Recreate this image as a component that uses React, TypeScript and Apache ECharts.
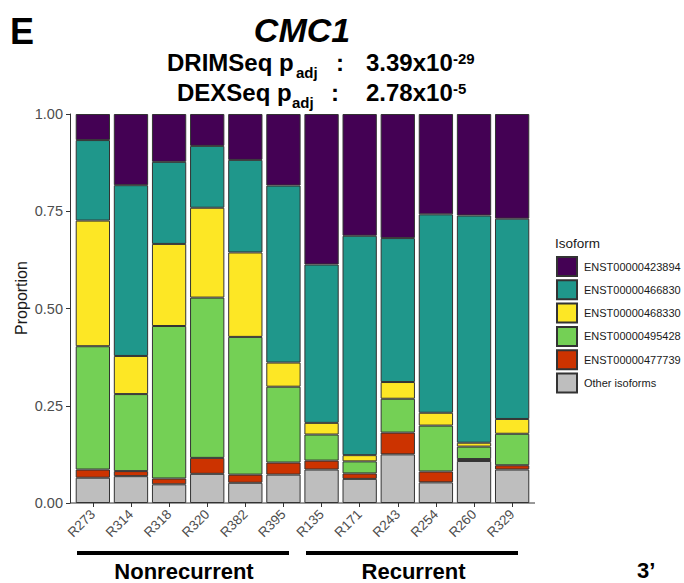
import React, { useEffect, useRef } from "react";
import * as echarts from "echarts";

const categories = ["R273", "R314", "R318", "R320", "R382", "R395", "R135", "R171", "R243", "R254", "R260", "R329"];
const otherIsoforms = [0.065, 0.069, 0.048, 0.075, 0.052, 0.073, 0.086, 0.062, 0.125, 0.053, 0.108, 0.086];
const enst477739 = [0.021, 0.013, 0.015, 0.041, 0.021, 0.031, 0.023, 0.014, 0.056, 0.028, 0.005, 0.011];
const enst495428 = [0.317, 0.198, 0.392, 0.412, 0.354, 0.195, 0.067, 0.031, 0.087, 0.118, 0.032, 0.081];
const enst468330 = [0.323, 0.098, 0.211, 0.231, 0.217, 0.062, 0.030, 0.016, 0.043, 0.033, 0.010, 0.038];
const enst466830 = [0.207, 0.439, 0.211, 0.159, 0.238, 0.455, 0.407, 0.564, 0.370, 0.510, 0.584, 0.515];
const enst423894 = [0.067, 0.183, 0.123, 0.082, 0.118, 0.184, 0.387, 0.313, 0.319, 0.258, 0.261, 0.269];
const yTicks = [0, 0.25, 0.5, 0.75, 1];
const groupLabels = ["Nonrecurrent", "Recurrent"];

const FONT = "'Liberation Sans', Arial, Helvetica, sans-serif";

// bottom -> top stacking order
const stackSeries = [
  { name: "Other isoforms", color: "#BEBEBE", data: otherIsoforms },
  { name: "ENST00000477739", color: "#CC3300", data: enst477739 },
  { name: "ENST00000495428", color: "#74D055", data: enst495428 },
  { name: "ENST00000468330", color: "#FDE725", data: enst468330 },
  { name: "ENST00000466830", color: "#1F978B", data: enst466830 },
  { name: "ENST00000423894", color: "#440154", data: enst423894 },
];
const legendOrder = [
  "ENST00000423894",
  "ENST00000466830",
  "ENST00000468330",
  "ENST00000495428",
  "ENST00000477739",
  "Other isoforms",
];

function txt(text: string, x: number, y: number, size: number, opts: any = {}) {
  return {
    type: "text",
    x,
    y,
    rotation: opts.rotation || 0,
    z: 20,
    style: {
      text,
      fill: opts.color || "#000",
      fontSize: size,
      fontWeight: opts.weight || "bold",
      fontStyle: opts.style || "normal",
      fontFamily: FONT,
      lineHeight: opts.lineHeight || Math.round(size * 0.9),
      align: opts.align || "left",
      verticalAlign: "middle",
    },
  };
}

export default function App() {
  const ref = useRef<HTMLDivElement>(null);
  useEffect(() => {
    document.body.style.margin = "0";
    const chart = echarts.init(ref.current as HTMLDivElement, null, { renderer: "svg" });
    const option: any = {
      animation: false,
      backgroundColor: "#fff",
      grid: { left: 73.8, right: 152.8, top: 114, bottom: 80, containLabel: false },
      legend: {
        data: legendOrder,
        orient: "vertical",
        left: 556,
        top: 256,
        padding: 0,
        itemWidth: 20,
        itemHeight: 19,
        itemGap: 2.3,
        icon: "rect",
        selectedMode: false,
        textStyle: { fontSize: 11, color: "#1a1a1a", fontFamily: FONT, padding: [0, 0, 0, 2] },
      },
      xAxis: {
        type: "category",
        data: categories,
        axisLine: { show: false },
        axisTick: { show: true, alignWithLabel: true, length: 4, lineStyle: { color: "#333" } },
        axisLabel: { rotate: 45, margin: 9, fontSize: 13.5, color: "#4D4D4D", fontFamily: FONT, interval: 0 },
      },
      yAxis: {
        type: "value",
        min: 0,
        max: 1,
        interval: 0.25,
        offset: 3.8,
        splitLine: { show: false },
        axisLine: { show: true, lineStyle: { color: "#333" } },
        axisTick: { show: true, length: 4, lineStyle: { color: "#333" } },
        axisLabel: {
          margin: 7,
          fontSize: 14.5,
          color: "#4D4D4D",
          fontFamily: FONT,
          formatter: (v: number) => (yTicks.includes(v) ? v.toFixed(2) : ""),
        },
      },
      series: stackSeries.map((s) => ({
        name: s.name,
        type: "bar",
        stack: "total",
        barWidth: "90%",
        data: s.data,
        itemStyle: { color: s.color, borderColor: "#333", borderWidth: 1 },
      })),
      graphic: [
        { type: "line", z: 20, shape: { x1: 70, y1: 503, x2: 535, y2: 503 }, style: { stroke: "#333", lineWidth: 1 } },
        txt("E", 10, 31, 36),
        txt("CMC1", 302, 29.5, 34, { align: "center", style: "italic", lineHeight: 28 }),
        txt("DRIMSeq p", 167, 62, 24, { lineHeight: 20 }),
        txt("adj", 296, 72, 15, { lineHeight: 12 }),
        txt(":", 336, 62.5, 24, { lineHeight: 18 }),
        txt("3.39x10", 366, 62, 24, { lineHeight: 20 }),
        txt("-29", 453, 58.5, 15, { lineHeight: 12 }),
        txt("DEXSeq p", 177, 92, 24, { lineHeight: 20 }),
        txt("adj", 292, 102, 15, { lineHeight: 12 }),
        txt(":", 331, 92.5, 24, { lineHeight: 18 }),
        txt("2.78x10", 366, 92, 24, { lineHeight: 20 }),
        txt("-5", 453, 88.5, 15, { lineHeight: 12 }),
        txt("Proportion", 21, 298, 16, { rotation: Math.PI / 2, align: "center", weight: "normal", color: "#1a1a1a" }),
        txt("Isoform", 555, 243, 13.5, { weight: "normal", color: "#1a1a1a" }),
        { type: "line", z: 20, shape: { x1: 77, y1: 553, x2: 289, y2: 553 }, style: { stroke: "#000", lineWidth: 4 } },
        { type: "line", z: 20, shape: { x1: 306, y1: 553, x2: 518, y2: 553 }, style: { stroke: "#000", lineWidth: 4 } },
        txt(groupLabels[0], 184, 571.5, 22, { align: "center" }),
        txt(groupLabels[1], 413.5, 571.5, 22, { align: "center" }),
        txt("3’", 637, 570, 22),
      ],
    };
    chart.setOption(option);
    return () => chart.dispose();
  }, []);
  return <div ref={ref} style={{ position: "fixed", left: 0, top: 0, width: 684, height: 583 }} />;
}
